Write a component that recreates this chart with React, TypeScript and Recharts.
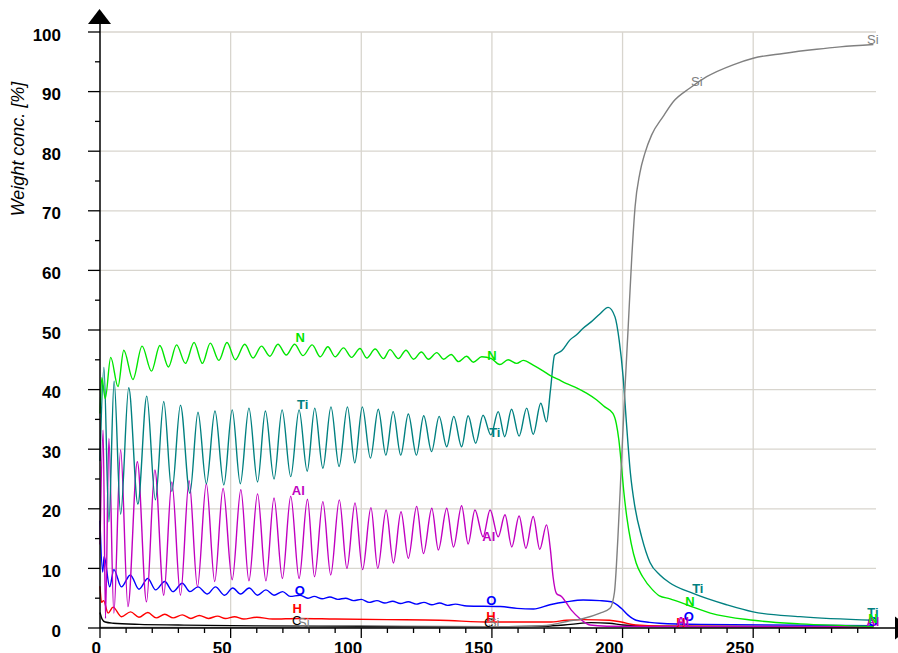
import React from "react";
import { ComposedChart, Line, Scatter, XAxis, YAxis, ReferenceLine } from "recharts";

// depth profile, [depth, weight %]
const N_PTS: [number, number][] = [
  [0, 36], [0.7, 42], [2.0, 38.5], [4.1, 45.4], [6.9, 40.5], [9.1, 46.6], [12.6, 41.7], [16.1, 47.3],
  [19.7, 43.1], [22.9, 47.4], [26.2, 43.8], [29.3, 47.5], [32.7, 44.4], [36.0, 47.9], [39.2, 44.4],
  [42.2, 47.8], [45.5, 44.9], [48.6, 47.9], [51.8, 45.0], [55.4, 47.6], [58.6, 45.3], [61.8, 47.3],
  [65.0, 45.6], [68.1, 47.6], [71.3, 45.8], [74.5, 47.6], [77.7, 45.7], [81.2, 47.5], [84.3, 45.5],
  [87.2, 47.2], [90.0, 45.5], [93.2, 47.0], [96.3, 45.4], [99.5, 46.9], [102.1, 45.3], [105.3, 46.8],
  [108.5, 45.2], [111.0, 46.7], [114.2, 45.2], [117.1, 46.6], [120.0, 45.1], [123.0, 46.3], [125.7, 45.1],
  [128.9, 46.2], [131.5, 45.1], [134.4, 45.9], [137.2, 44.7], [140.3, 45.6], [142.9, 44.6], [146.1, 45.5],
  [149.8, 45.2], [153.0, 44.2], [156.2, 45.0], [159.5, 44.4], [162.0, 44.9], [165.8, 44.1], [169.7, 43.1],
  [172.2, 42.4], [175.4, 41.7], [178.6, 41.0], [182.4, 40.3], [186.2, 39.4], [190.0, 38.3], [193.2, 37.1],
  [196.3, 36.0], [197.6, 34.3], [198.6, 31.5], [199.5, 27.6], [200.4, 23.2], [201.6, 18.7], [203.3, 14.2],
  [205.2, 10.9], [207.7, 8.6], [211.5, 6.4], [214.1, 5.4], [218.2, 4.9], [224.6, 3.9], [233.6, 2.5],
  [250, 1.3], [268, 0.7], [296, 0.3],
];

const TI_PTS: [number, number][] = [
  [0, 28], [1.5, 43.7], [3.4, 17.8], [5.4, 41.4], [7.9, 19.1], [11.0, 40.3], [14.5, 20.8], [17.9, 38.9],
  [21.2, 21.5], [24.4, 38.0], [27.5, 22.9], [30.8, 37.4], [34.4, 22.6], [37.5, 36.2], [40.7, 24.2],
  [44.0, 36.4], [47.4, 24.0], [50.6, 36.6], [53.7, 24.2], [57.0, 36.9], [60.3, 24.5], [63.3, 36.4],
  [66.6, 25.0], [69.7, 36.6], [73.0, 25.4], [76.2, 36.6], [79.3, 26.3], [82.2, 36.9], [85.3, 26.8],
  [88.4, 37.1], [91.5, 27.1], [94.7, 37.1], [97.5, 27.7], [100.4, 37.1], [103.5, 28.5], [106.5, 36.7],
  [109.4, 29.0], [112.2, 36.3], [115.1, 29.0], [118.0, 35.9], [121.1, 29.0], [123.9, 35.6], [126.9, 29.6],
  [129.8, 35.5], [132.7, 30.4], [135.4, 35.5], [138.4, 30.4], [140.9, 35.6], [143.8, 31.0], [146.6, 35.7],
  [149.6, 32.4], [152.4, 36.3], [154.9, 32.1], [157.5, 36.7], [160.4, 32.2], [163.3, 36.9], [165.8, 32.5],
  [168.7, 37.7], [170.9, 34.6], [172.4, 39.9], [174.0, 45.8], [176.7, 46.5], [179.8, 48.3], [182.4, 49.2],
  [184.9, 50.3], [188.1, 51.4], [191.3, 52.7], [194.5, 53.8], [197.1, 52.2], [198.7, 48.3], [200.2, 42.2],
  [201.5, 34.3], [203.0, 26.0], [204.7, 20.4], [207.3, 15.3], [210.5, 11.0], [214.3, 8.9], [218, 7.6],
  [227, 5.8], [239.8, 3.9], [250, 2.7], [267.9, 1.9], [296, 1.3],
];

const AL_PTS: [number, number][] = [
  [0, 14], [1.2, 33.2], [2.1, 1.6], [3.4, 31.8], [5.3, 2.5], [7.9, 29.9], [10.7, 3.6], [14.3, 27.9],
  [17.8, 4.4], [21.0, 26.5], [24.4, 5.5], [27.5, 24.5], [30.8, 5.5], [34.1, 24.7], [37.3, 6.9],
  [40.7, 24.2], [43.9, 7.8], [47.1, 23.4], [50.6, 8.1], [53.9, 23.2], [57.0, 7.9], [60.3, 22.5],
  [63.5, 7.9], [66.6, 21.8], [69.8, 8.3], [73.0, 22.1], [76.2, 8.3], [79.4, 21.6], [82.1, 8.6],
  [85.3, 21.2], [88.3, 8.9], [91.6, 21.5], [94.5, 10.0], [97.6, 21.0], [100.5, 9.8], [103.7, 20.2],
  [106.3, 10.0], [109.5, 19.8], [112.3, 10.9], [115.2, 19.5], [118.0, 11.7], [121.2, 20.4], [123.8, 12.5],
  [127.0, 20.1], [129.5, 13.1], [132.7, 20.1], [135.3, 13.6], [138.4, 20.5], [140.9, 14.1], [143.5, 19.8],
  [146.6, 15.3], [149.3, 19.8], [152.4, 15.3], [155.0, 19.0], [157.6, 13.6], [160.4, 18.8], [163.0, 13.4],
  [165.8, 18.7], [168.3, 13.2], [170.9, 17.3], [172.4, 13.1], [173.4, 8.6], [174.7, 5.8], [176.6, 5.3],
  [180.4, 3.0], [183.6, 1.6], [187.5, 0.5], [194, 0.3], [220, 0.2], [296, 0.2],
];

const O_PTS: [number, number][] = [
  [0, 18], [1.0, 9.4], [1.6, 12.0], [3.7, 6.9], [5.3, 9.8], [8.2, 6.9], [11.6, 8.9], [14.9, 6.5],
  [18.3, 8.3], [21.3, 6.4], [24.8, 7.8], [27.9, 6.1], [31.5, 7.5], [34.4, 6.1], [37.5, 6.9], [41.1, 5.7],
  [44.2, 6.9], [47.7, 5.5], [50.8, 6.7], [53.8, 5.7], [57.1, 6.7], [60.3, 5.5], [63.5, 6.4], [66.6, 5.5],
  [69.9, 6.1], [72.8, 5.3], [76.5, 5.5], [79.5, 5.0], [82, 5.3], [85, 4.9], [88, 5.2], [91, 4.8],
  [94, 5.0], [97, 4.6], [100, 4.8], [103, 4.3], [106, 4.6], [109, 4.2], [112, 4.5], [115, 4.1],
  [118, 4.4], [121, 4.0], [124, 4.3], [127, 3.9], [130, 4.2], [133, 3.8], [136, 4.0], [140.4, 3.7],
  [153.2, 3.6], [159.6, 3.3], [165.9, 3.2], [172.2, 3.9], [178.6, 4.4], [184.9, 4.7], [191.3, 4.6],
  [195.7, 4.4], [199.5, 3.3], [202.0, 2.2], [205.2, 1.3], [210.3, 0.95], [214.1, 0.8], [230, 0.6],
  [296, 0.4],
];

const H_PTS: [number, number][] = [
  [0, 7], [0.6, 4.3], [1.4, 4.6], [3.1, 2.5], [5.0, 3.5], [8.2, 1.9], [11.7, 2.7], [14.9, 1.8],
  [18.3, 2.6], [21.5, 1.7], [24.8, 2.3], [28, 1.7], [31.5, 2.2], [34.8, 1.6], [38, 2.1], [41.5, 1.6],
  [45, 2.0], [48, 1.6], [51.5, 1.9], [55, 1.5], [60, 1.8], [66, 1.5], [76, 1.6], [90, 1.5], [110, 1.4],
  [130, 1.3], [150, 1.0], [172, 1.0], [178.6, 1.3], [185, 1.4], [195, 1.3], [199.5, 1.0], [205, 0.5],
  [215, 0.3], [296, 0.2],
];

const C_PTS: [number, number][] = [
  [0, 2.6], [0.8, 1.5], [2, 1.0], [5, 0.8], [15, 0.6], [30, 0.5], [60, 0.35], [100, 0.3], [150, 0.2],
  [170, 0.3], [180, 0.6], [188, 0.9], [195, 0.8], [200, 0.5], [210, 0.3], [296, 0.2],
];

const SI_PTS: [number, number][] = [
  [0, 0.1], [100, 0.1], [150, 0.2], [165, 0.3], [172.3, 0.5], [178.7, 1.1], [185, 1.6], [191.4, 2.5],
  [195.2, 3.3], [196.9, 6], [198.2, 15], [199.5, 27], [200.9, 40], [202.1, 50], [203.5, 62], [204.8, 70.7],
  [206.6, 76.3], [208.5, 79.6], [211.1, 82.7], [215.5, 85.8], [219.4, 88.3], [225.8, 90.6], [232.2, 92.5],
  [242.3, 94.5], [250, 95.6], [261.5, 96.4], [274.3, 97.1], [283.2, 97.5], [296, 97.9],
];

// where the element names are written along each curve
const N_LABELS: [number, number][] = [[76.6, 48.0], [150.0, 45.0], [225.8, 3.7], [295.8, 0.8]];
const TI_LABELS: [number, number][] = [[77.6, 36.7], [151.1, 32.1], [228.8, 5.8], [295.8, 1.9]];
const AL_LABELS: [number, number][] = [[75.9, 22.3], [148.8, 14.6], [223.0, 0.4], [295.8, 0.3]];
const O_LABELS: [number, number][] = [[76.5, 5.6], [149.8, 3.9], [225.4, 1.1], [295.8, 0.4]];
const H_LABELS: [number, number][] = [[75.5, 2.6], [149.6, 1.1], [222.3, 0.2]];
const C_LABELS: [number, number][] = [[75.3, 0.55], [148.8, 0.2]];
const SI_LABELS: [number, number][] = [[78.0, 0.2], [150.7, 0.2], [228.4, 90.9], [295.8, 98.0]];

const X_TICKS = [0, 10, 20, 30, 40, 50, 60, 70, 80, 90, 100, 110, 120, 130, 140, 150, 160, 170, 180, 190,
  200, 210, 220, 230, 240, 250, 260, 270, 280, 290];
const Y_TICKS = [0, 5, 10, 15, 20, 25, 30, 35, 40, 45, 50, 55, 60, 65, 70, 75, 80, 85, 90, 95, 100];
const X_GRID = [50, 100, 150, 200, 250];
const Y_GRID = [10, 20, 30, 40, 50, 60, 70, 80, 90, 100];

const FONT = "Arial, 'Liberation Sans', sans-serif";
const GRID = "#d8d5ce";

const toPts = (a: [number, number][]) => a.map(([x, y]) => ({ x, y }));

const series = [
  { name: "C", color: "#000000", pts: C_PTS, labels: C_LABELS, bold: false },
  { name: "H", color: "#ff0000", pts: H_PTS, labels: H_LABELS, bold: true },
  { name: "O", color: "#0000ff", pts: O_PTS, labels: O_LABELS, bold: true },
  { name: "Al", color: "#c000c0", pts: AL_PTS, labels: AL_LABELS, bold: true },
  { name: "Ti", color: "#008080", pts: TI_PTS, labels: TI_LABELS, bold: true },
  { name: "N", color: "#00e600", pts: N_PTS, labels: N_LABELS, bold: true },
  { name: "Si", color: "#808080", pts: SI_PTS, labels: SI_LABELS, bold: false },
];

const XTick = (props: any) => {
  const { x, y, payload } = props;
  const v = payload.value;
  const major = v % 50 === 0;
  return (
    <g>
      <line x1={x} x2={x} y1={y} y2={y + (major ? 10 : 5)} stroke="#000" strokeWidth={1.3} />
      {major && (
        <text x={x + 1} y={y + 26} textAnchor="end" fontSize={17} fontWeight="bold" fontFamily={FONT} fill="#000">
          {v}
        </text>
      )}
    </g>
  );
};

const YTick = (props: any) => {
  const { x, y, payload } = props;
  const v = payload.value;
  const major = v % 10 === 0;
  return (
    <g>
      <line x1={x - (major ? 12 : 5)} x2={x} y1={y} y2={y} stroke="#000" strokeWidth={1.3} />
      {major && (
        <text x={61} y={y + 8.5} textAnchor="end" fontSize={17} fontWeight="bold" fontFamily={FONT} fill="#000">
          {v}
        </text>
      )}
    </g>
  );
};

export default function App() {
  return (
    <div style={{ position: "absolute", left: 0, top: 0, width: 898, height: 653, background: "#fff" }}>
      <ComposedChart width={898} height={653} margin={{ top: 32, right: 22, bottom: 0, left: 0 }}>
        <XAxis
          dataKey="x"
          type="number"
          domain={[0, 297]}
          ticks={X_TICKS}
          interval={0}
          height={25}
          tickSize={0}
          tickMargin={0}
          axisLine={false}
          tick={<XTick />}
        />
        <YAxis
          type="number"
          domain={[0, 100]}
          ticks={Y_TICKS}
          interval={0}
          width={100}
          tickSize={0}
          tickMargin={0}
          axisLine={false}
          tick={<YTick />}
        />
        {X_GRID.map((v) => (
          <ReferenceLine key={"gx" + v} x={v} stroke={GRID} strokeWidth={1.3} />
        ))}
        {Y_GRID.map((v) => (
          <ReferenceLine key={"gy" + v} y={v} stroke={GRID} strokeWidth={1.3} />
        ))}
        {series.map((s) => (
          <Line
            key={s.name}
            data={toPts(s.pts)}
            dataKey="y"
            type="monotone"
            stroke={s.color}
            strokeWidth={1.4}
            dot={false}
            isAnimationActive={false}
          />
        ))}
        {series.map((s) => (
          <Scatter
            key={"l" + s.name}
            data={toPts(s.labels)}
            dataKey="y"
            isAnimationActive={false}
            shape={(p: any) => (
              <text
                x={p.cx}
                y={p.cy}
                textAnchor="middle"
                fontSize={13}
                fontWeight={s.bold ? "bold" : "normal"}
                fontFamily={FONT}
                fill={s.color}
              >
                {s.name}
              </text>
            )}
          />
        ))}
      </ComposedChart>
      <svg
        width={898}
        height={653}
        style={{ position: "absolute", left: 0, top: 0, pointerEvents: "none" }}
      >
        <line x1={100} y1={628} x2={100} y2={24} stroke="#000" strokeWidth={1.5} />
        <polygon points="88,24 111,24 99.5,9" fill="#000" />
        <line x1={100} y1={628} x2={895} y2={628} stroke="#000" strokeWidth={1.5} />
        <polygon points="895,616.5 895,639.5 911,628" fill="#000" />
        <text
          x={18}
          y={149}
          transform="rotate(-90 18 149)"
          textAnchor="middle"
          dominantBaseline="central"
          fontSize={18}
          fontStyle="italic"
          fontFamily={FONT}
          fill="#000"
        >
          Weight conc. [%]
        </text>
      </svg>
    </div>
  );
}
